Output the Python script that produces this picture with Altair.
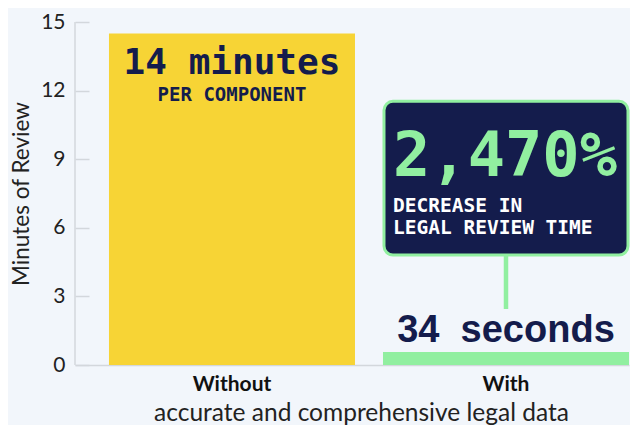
import altair as alt
import pandas as pd

# ---- data ----
categories = ["Without", "With"]
minutes = [14.5, 0.57]          # 14.5 min vs 34 seconds
bar_colors = ["#F7D435", "#91EFA0"]
y_ticks = [0, 3, 6, 9, 12, 15]

without_main = "14 minutes"
without_sub = "PER COMPONENT"
with_main = "34\u00a0 seconds"
box_big = "2,470%"
box_line1 = "DECREASE IN"
box_line2 = "LEGAL REVIEW TIME"

NAVY = "#141C4C"
GREEN = "#91EFA0"
BG = "#F2F6FB"
AXIS_GRAY = "#D3D7DC"
MONO = "DejaVu Sans Mono"
SANS = "Lato"

df = pd.DataFrame({"group": categories, "minutes": minutes, "color": bar_colors})
one = pd.DataFrame({"k": [0]})

x_scale = alt.Scale(domain=categories, paddingInner=0.1022, paddingOuter=0.062, align=1)
y_scale = alt.Scale(domain=[0, 15], nice=False)

bars = alt.Chart(df).mark_bar().encode(
    x=alt.X("group:N", sort=categories, scale=x_scale,
            axis=alt.Axis(title="accurate and comprehensive legal data",
                          labelAngle=0, labelFont=SANS, labelFontSize=21,
                          labelFontWeight="bold", labelColor="#111111",
                          labelPadding=8, ticks=False, domain=True,
                          domainColor=AXIS_GRAY, domainWidth=1.5,
                          titleFont=SANS, titleFontSize=24.5, titleFontWeight="normal",
                          titleColor="#222222", titlePadding=7, titleX=286,
                          titleAlign="center")),
    y=alt.Y("minutes:Q", scale=y_scale,
            axis=alt.Axis(values=y_ticks, domain=False, offset=-14, tickSize=14,
                          tickColor=AXIS_GRAY, tickWidth=1.5, labelPadding=10,
                          grid=False, labelFont=SANS, labelFontSize=21,
                          labelColor="#222222", title="Minutes of Review",
                          titleFont=SANS, titleFontSize=22.5, titleFontWeight="normal",
                          titleColor="#222222", titlePadding=7)),
    color=alt.Color("color:N", scale=None),
)

y_domain = alt.Chart(one).mark_rule(color=AXIS_GRAY, strokeWidth=1.5).encode(
    x=alt.value(0), y=alt.datum(0), y2=alt.datum(15))

connector = alt.Chart(one).mark_rule(color=GREEN, strokeWidth=4.5).encode(
    x=alt.datum("With"), y=alt.datum(4.81), y2=alt.datum(2.45))

box = alt.Chart(one).mark_bar(width=244, cornerRadius=9, fill=NAVY,
                              stroke=GREEN, strokeWidth=3).encode(
    x=alt.datum("With"), y=alt.datum(11.53), y2=alt.datum(4.81))

def txt(s, xcat, yval, font, size, color, weight="bold", align="center", dx=0):
    return alt.Chart(one).mark_text(font=font, fontSize=size, fontWeight=weight,
                                    color=color, align=align, baseline="alphabetic",
                                    dx=dx).encode(
        x=alt.datum(xcat), y=alt.datum(yval), text=alt.value(s))

texts = [
    txt(without_main, "Without", 12.71, MONO, 36, NAVY),
    txt(without_sub, "Without", 11.53, MONO, 19, NAVY),
    txt(box_big, "With", 8.26, MONO, 62, GREEN, align="left", dx=-113),
    txt(box_line1, "With", 6.68, MONO, 19.5, "#FFFFFF", align="left", dx=-113),
    txt(box_line2, "With", 5.72, MONO, 19.5, "#FFFFFF", align="left", dx=-113),
    txt(with_main, "With", 1.0, "Liberation Sans", 38, NAVY),
]

chart = alt.layer(bars, y_domain, connector, box, *texts).properties(
    width=554, height=343, background=BG,
    padding={"left": 2, "top": 3, "right": 0, "bottom": 0},
).configure_view(stroke=None)

chart.save("out.html", embed_options={"renderer": "svg", "actions": False})
